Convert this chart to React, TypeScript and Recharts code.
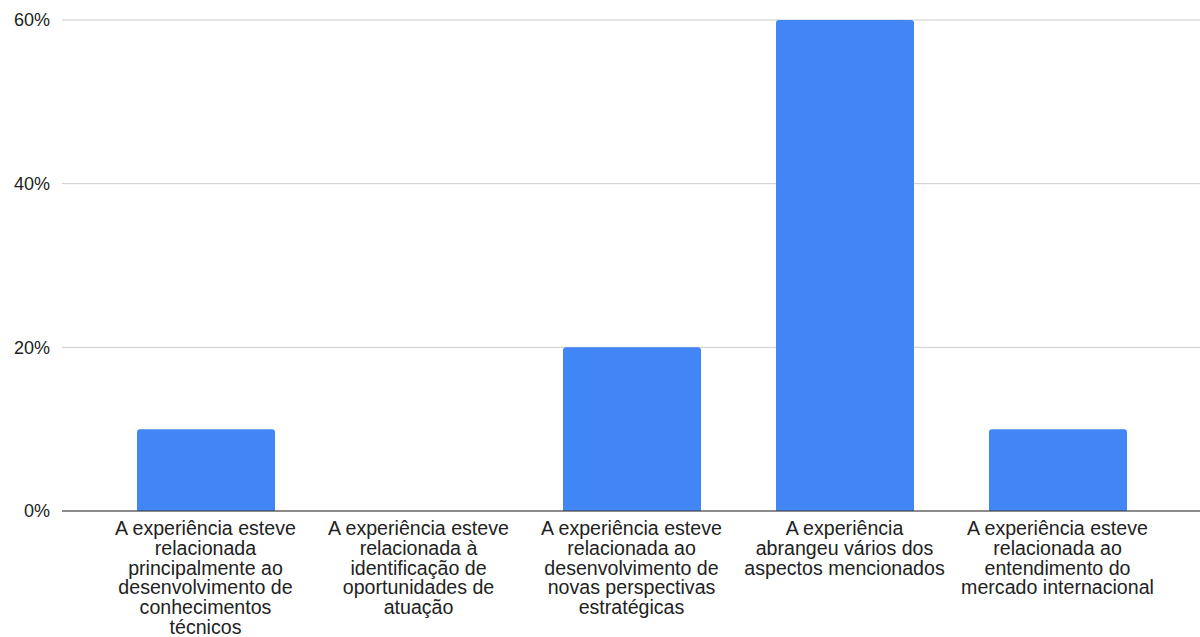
import React from "react";
import { BarChart, Bar, XAxis, YAxis, CartesianGrid } from "recharts";

// Category labels (line breaks mark where each label wraps)
const categories: string[] = [
  "A experiência esteve\nrelacionada\nprincipalmente ao\ndesenvolvimento de\nconhecimentos\ntécnicos",
  "A experiência esteve\nrelacionada à\nidentificação de\noportunidades de\natuação",
  "A experiência esteve\nrelacionada ao\ndesenvolvimento de\nnovas perspectivas\nestratégicas",
  "A experiência\nabrangeu vários dos\naspectos mencionados",
  "A experiência esteve\nrelacionada ao\nentendimento do\nmercado internacional",
];

// Share of responses per category (%)
const shares: number[] = [10, 0, 20, 60, 10];

const yTicks: number[] = [0, 20, 40, 60];

const data = categories.map((name, i) => ({ name, value: shares[i] }));

const FONT = "'Liberation Sans', Arial, sans-serif";

const CategoryTick = (props: any) => {
  const { x, y, payload } = props;
  const lines: string[] = String(payload.value).split("\n");
  return (
    <g transform={`translate(${x},${y})`}>
      <text
        textAnchor="middle"
        fill="#222222"
        fontFamily={FONT}
        fontSize={19.6}
      >
        {lines.map((line, i) => (
          <tspan key={i} x={0} y={16 + i * 19.8}>
            {line}
          </tspan>
        ))}
      </text>
    </g>
  );
};

export default function App() {
  return (
    <div style={{ position: "fixed", left: 0, top: 0, width: 1200, height: 637, background: "#fff" }}>
      <BarChart
        width={1200}
        height={637}
        data={data}
        margin={{ top: 20, right: 0, bottom: 0, left: 0 }}
      >
        <CartesianGrid vertical={false} stroke="#cccccc" strokeWidth={1} />
        <XAxis
          dataKey="name"
          height={126}
          interval={0}
          tickLine={false}
          axisLine={{ stroke: "#333333", strokeWidth: 1 }}
          padding={{ left: 37, right: 36 }}
          tick={<CategoryTick />}
        />
        <YAxis
          width={62}
          domain={[0, 60]}
          ticks={yTicks}
          tickFormatter={(v: number) => `${v}%`}
          axisLine={false}
          tickLine={false}
          tickSize={0}
          tickMargin={12}
          tick={{ fill: "#222222", fontFamily: FONT, fontSize: 18 }}
        />
        <Bar
          dataKey="value"
          fill="#4285f4"
          barSize={138}
          radius={[3, 3, 0, 0]}
          isAnimationActive={false}
        />
      </BarChart>
    </div>
  );
}
